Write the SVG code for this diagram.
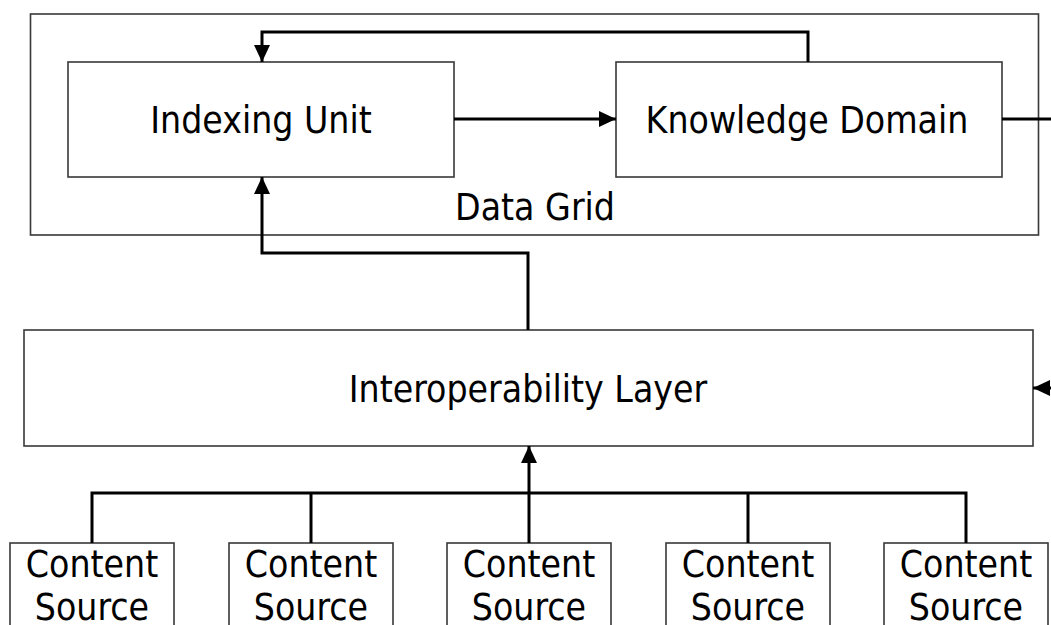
<svg xmlns="http://www.w3.org/2000/svg" width="1051" height="625" viewBox="0 0 1051 625">
<style>
.box{fill:#fff;stroke:#383838;stroke-width:1.6}
.grid{fill:none;stroke:#383838;stroke-width:1.6}
.lbl{font-family:"DejaVu Sans Condensed","DejaVu Sans",sans-serif;font-stretch:condensed;font-size:37px;fill:#000;text-anchor:middle}
.con{fill:none;stroke:#000;stroke-width:3}
</style>
<defs>
<marker id="arr" viewBox="0 0 17 16" refX="17" refY="8" markerWidth="17" markerHeight="16" markerUnits="userSpaceOnUse" orient="auto">
<path d="M0,0 L17,8 L0,16 z" fill="#000"/>
</marker>
</defs>
<rect width="1051" height="625" fill="#fff"/>
<g id="data-grid">
<rect class="grid" x="30.5" y="14" width="1008" height="221"/>
<text class="lbl" x="535" y="220">Data Grid</text>
</g>
<g id="indexing-unit">
<rect class="box" x="68" y="62" width="386" height="115"/>
<text class="lbl" x="261" y="133">Indexing Unit</text>
</g>
<g id="knowledge-domain">
<rect class="box" x="616" y="62" width="386" height="115"/>
<text class="lbl" x="807" y="133">Knowledge Domain</text>
</g>
<g id="interoperability-layer">
<rect class="box" x="24" y="330" width="1009" height="116"/>
<text class="lbl" x="528" y="402">Interoperability Layer</text>
</g>
<g id="content-source-1">
<rect class="box" x="10" y="543" width="164" height="120"/>
<text class="lbl" x="92" y="577">Content</text>
<text class="lbl" x="92" y="620">Source</text>
</g>
<g id="content-source-2">
<rect class="box" x="229" y="543" width="164" height="120"/>
<text class="lbl" x="311" y="577">Content</text>
<text class="lbl" x="311" y="620">Source</text>
</g>
<g id="content-source-3">
<rect class="box" x="447" y="543" width="164" height="120"/>
<text class="lbl" x="529" y="577">Content</text>
<text class="lbl" x="529" y="620">Source</text>
</g>
<g id="content-source-4">
<rect class="box" x="666" y="543" width="164" height="120"/>
<text class="lbl" x="748" y="577">Content</text>
<text class="lbl" x="748" y="620">Source</text>
</g>
<g id="content-source-5">
<rect class="box" x="884" y="543" width="164" height="120"/>
<text class="lbl" x="966" y="577">Content</text>
<text class="lbl" x="966" y="620">Source</text>
</g>
<g id="connectors">
<path class="con" d="M454,119 H616" marker-end="url(#arr)"/>
<path class="con" d="M808,62 V32 H262 V62" marker-end="url(#arr)"/>
<path class="con" d="M528,330 V253 H262 V177" marker-end="url(#arr)"/>
<path class="con" d="M1002,119 H1070 V388 H1033" marker-end="url(#arr)"/>
<path class="con" d="M92,543 V493 H966 V543"/>
<path class="con" d="M311,543 V493"/>
<path class="con" d="M748,543 V493"/>
<path class="con" d="M529,543 V446" marker-end="url(#arr)"/>
</g>
</svg>
